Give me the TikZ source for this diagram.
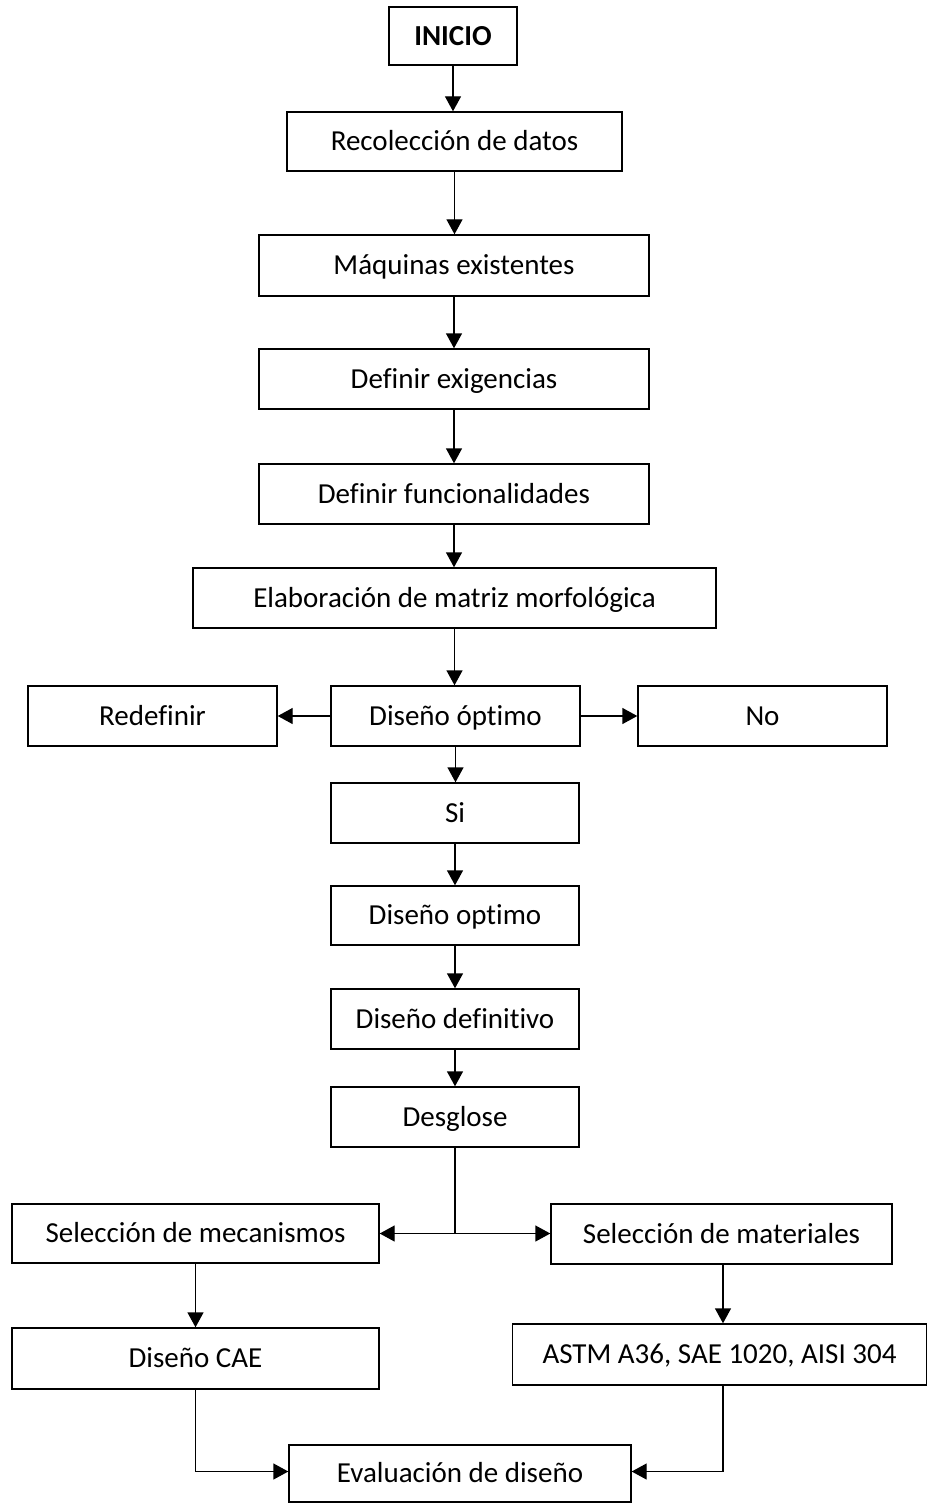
\documentclass[tikz,border=0pt]{standalone}
\usepackage{fontspec}
\setmainfont{Carlito}[Ligatures=NoCommon]
\usetikzlibrary{arrows.meta}
\begin{document}
\begin{tikzpicture}[x=1pt,y=-1pt,
  box/.style={draw=black,line width=1.4pt,inner sep=0pt,align=center,
    font=\fontsize{29}{34}\selectfont,text height=18.6pt,text depth=0pt},
  conn/.style={line width=1.4pt,-{Triangle[length=15pt,width=16pt]}},
  plain/.style={line width=1.4pt}]
\fill[white] (0,0) rectangle (928,1503);
\useasboundingbox (0,0) rectangle (928,1503);
\node[box,minimum width=128pt,minimum height=58pt] (ini) at (453,36) {\textbf{INICIO}};
\node[box,minimum width=335pt,minimum height=59pt] (rec) at (454.5,141.5) {Recolección de datos};
\node[box,minimum width=390pt,minimum height=61pt] (maq) at (454,265.5) {Máquinas existentes};
\node[box,minimum width=390pt,minimum height=60pt] (exi) at (454,379) {Definir exigencias};
\node[box,minimum width=390pt,minimum height=60pt] (fun) at (454,494) {Definir funcionalidades};
\node[box,minimum width=523pt,minimum height=60pt] (ela) at (454.5,598) {Elaboración de matriz morfológica};
\node[box,minimum width=249pt,minimum height=60pt] (dop) at (455.5,716) {Diseño óptimo};
\node[box,minimum width=249pt,minimum height=60pt] (red) at (152.5,716) {Redefinir};
\node[box,minimum width=249pt,minimum height=60pt] (no) at (762.5,716) {No};
\node[box,minimum width=248pt,minimum height=60pt] (si) at (455,813) {Si};
\node[box,minimum width=248pt,minimum height=59pt] (dop2) at (455,915.5) {Diseño optimo};
\node[box,minimum width=248pt,minimum height=60pt] (def) at (455,1019) {Diseño definitivo};
\node[box,minimum width=248pt,minimum height=60pt] (des) at (455,1117) {Desglose};
\node[box,minimum width=367pt,minimum height=59pt] (mec) at (195.5,1233.5) {Selección de mecanismos};
\node[box,minimum width=341pt,minimum height=60pt] (mat) at (721.5,1234) {Selección de materiales};
\node[box,minimum width=367pt,minimum height=61pt] (cae) at (195.5,1358.5) {Diseño CAE};
\node[box,minimum width=414pt,minimum height=61pt] (astm) at (719.5,1354.5) {ASTM A36, SAE 1020, AISI 304};
\node[box,minimum width=342pt,minimum height=57pt] (eva) at (460,1473.5) {Evaluación de diseño};
\coordinate (split) at (des.south |- mec.east);
\draw[conn] (ini.south) -- (ini.south |- rec.north);
\draw[conn] (rec.south) -- (rec.south |- maq.north);
\draw[conn] (maq.south) -- (exi.north);
\draw[conn] (exi.south) -- (fun.north);
\draw[conn] (fun.south) -- (fun.south |- ela.north);
\draw[conn] (ela.south) -- (ela.south |- dop.north);
\draw[conn] (dop.west) -- (red.east);
\draw[conn] (dop.east) -- (no.west);
\draw[conn] (dop.south) -- (dop.south |- si.north);
\draw[conn] (si.south) -- (dop2.north);
\draw[conn] (dop2.south) -- (def.north);
\draw[conn] (def.south) -- (des.north);
\draw[plain] (des.south) -- (split);
\draw[conn] (split) -- (mec.east);
\draw[conn] (split) -- (split -| mat.west);
\draw[conn] (mec.south) -- (cae.north);
\draw[conn] ([xshift=1.5pt]mat.south) -- ([xshift=1.5pt]mat.south |- astm.north);
\draw[conn] (cae.south) |- ([yshift=2pt]eva.west);
\draw[conn] ([xshift=1.5pt]mat.south |- astm.south) |- ([yshift=2pt]eva.east);
\end{tikzpicture}
\end{document}
